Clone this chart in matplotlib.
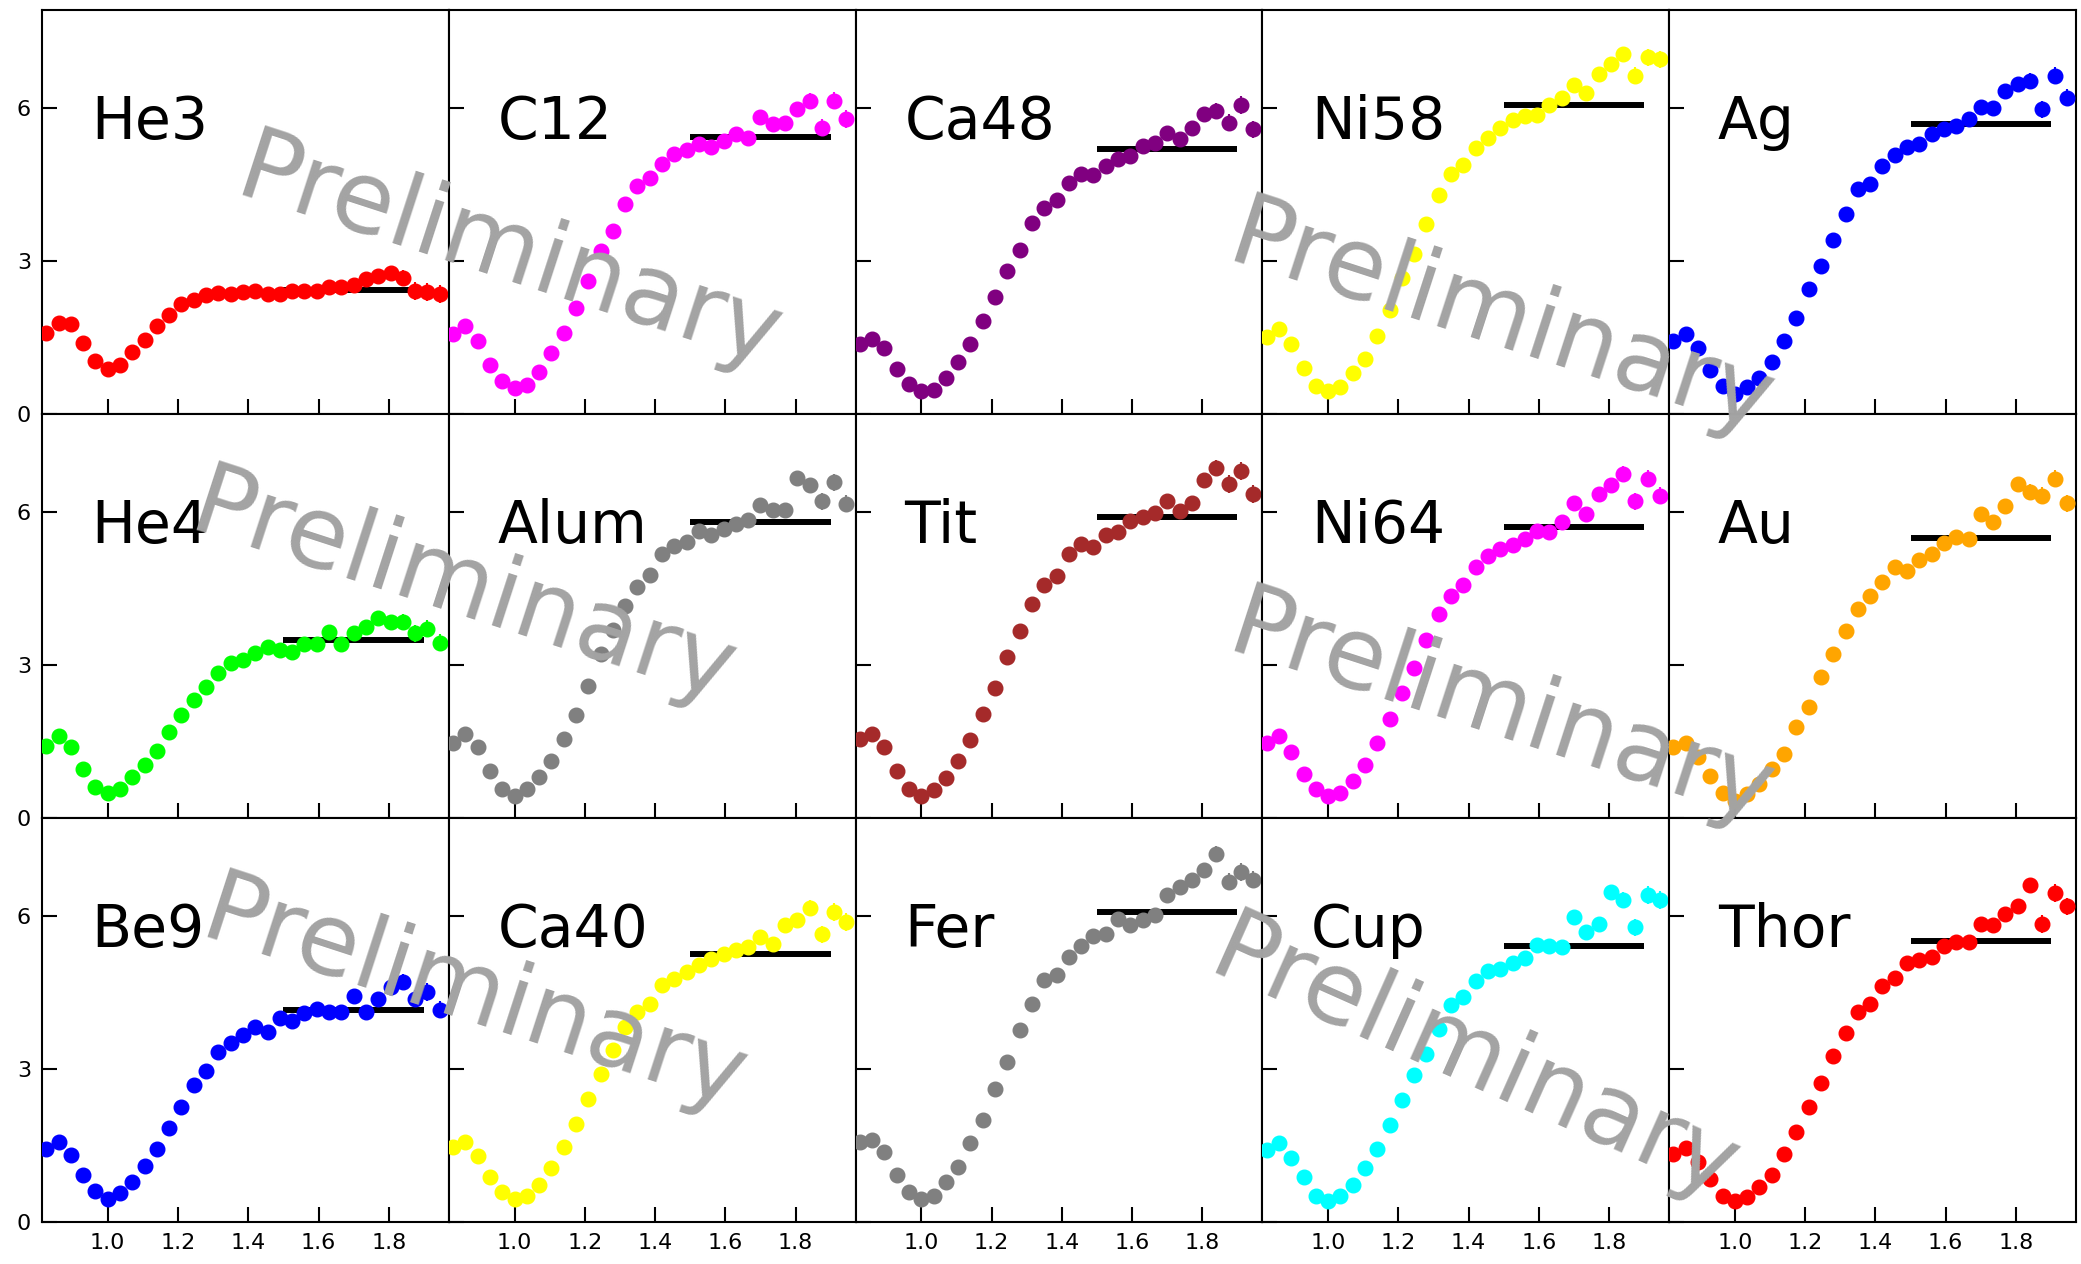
import matplotlib
matplotlib.use("Agg")
import matplotlib.pyplot as plt

# invariant mass bins (GeV), shared by every target
W = [0.825, 0.86, 0.895, 0.93, 0.965, 1.0, 1.035, 1.07, 1.105, 1.14, 1.175,
     1.21, 1.245, 1.28, 1.315, 1.35, 1.385, 1.42, 1.455, 1.49, 1.525, 1.56,
     1.595, 1.63, 1.665, 1.70, 1.735, 1.77, 1.805, 1.84, 1.875, 1.91, 1.945]
ERR = [0.04] * 26 + [0.08, 0.10, 0.12, 0.15, 0.17, 0.17, 0.17]

He3 = [1.59, 1.78, 1.76, 1.39, 1.03, 0.88, 0.96, 1.22, 1.46, 1.73, 1.95, 2.16, 2.23, 2.33, 2.38, 2.36, 2.39,
       2.42, 2.35, 2.36, 2.42, 2.42, 2.41, 2.48, 2.49, 2.53, 2.64, 2.71, 2.77, 2.67, 2.41, 2.39, 2.35]
C12 = [1.56, 1.73, 1.43, 0.96, 0.65, 0.50, 0.57, 0.83, 1.19, 1.59, 2.08, 2.61, 3.20, 3.58, 4.11, 4.47, 4.63,
       4.91, 5.09, 5.17, 5.30, 5.24, 5.35, 5.48, 5.41, 5.82, 5.68, 5.71, 5.97, 6.14, 5.61, 6.14, 5.78]
Ca48 = [1.37, 1.48, 1.29, 0.88, 0.58, 0.45, 0.48, 0.71, 1.01, 1.38, 1.82, 2.29, 2.80, 3.21, 3.74, 4.03, 4.19,
        4.52, 4.71, 4.68, 4.86, 4.99, 5.05, 5.25, 5.32, 5.50, 5.39, 5.61, 5.88, 5.94, 5.71, 6.06, 5.58]
Ni58 = [1.51, 1.66, 1.37, 0.90, 0.55, 0.45, 0.52, 0.81, 1.07, 1.53, 2.03, 2.67, 3.14, 3.73, 4.29, 4.70, 4.88,
        5.22, 5.42, 5.61, 5.76, 5.84, 5.86, 6.06, 6.19, 6.45, 6.30, 6.67, 6.87, 7.05, 6.63, 6.99, 6.95]
Ag = [1.43, 1.56, 1.29, 0.86, 0.55, 0.39, 0.52, 0.71, 1.01, 1.43, 1.89, 2.46, 2.90, 3.42, 3.93, 4.41, 4.50,
      4.86, 5.08, 5.24, 5.29, 5.48, 5.58, 5.65, 5.78, 6.01, 6.00, 6.33, 6.46, 6.53, 5.97, 6.63, 6.20]
He4 = [1.42, 1.61, 1.40, 0.96, 0.61, 0.50, 0.57, 0.80, 1.03, 1.32, 1.68, 2.01, 2.31, 2.56, 2.84, 3.03, 3.10,
       3.23, 3.35, 3.29, 3.25, 3.42, 3.41, 3.64, 3.42, 3.62, 3.74, 3.93, 3.84, 3.84, 3.62, 3.71, 3.44]
Alum = [1.48, 1.65, 1.39, 0.92, 0.57, 0.44, 0.57, 0.80, 1.12, 1.55, 2.01, 2.59, 3.22, 3.69, 4.16, 4.52, 4.77,
        5.18, 5.34, 5.41, 5.62, 5.54, 5.67, 5.76, 5.84, 6.14, 6.04, 6.04, 6.67, 6.52, 6.21, 6.58, 6.16]
Tit = [1.55, 1.65, 1.39, 0.92, 0.57, 0.44, 0.55, 0.78, 1.12, 1.52, 2.04, 2.55, 3.16, 3.67, 4.20, 4.56, 4.75,
       5.18, 5.37, 5.32, 5.54, 5.60, 5.83, 5.91, 5.97, 6.22, 6.01, 6.17, 6.63, 6.86, 6.55, 6.80, 6.35]
Ni64 = [1.48, 1.61, 1.29, 0.86, 0.57, 0.44, 0.50, 0.73, 1.03, 1.48, 1.94, 2.46, 2.95, 3.48, 4.00, 4.36, 4.56,
        4.93, 5.14, 5.27, 5.36, 5.47, 5.62, 5.60, 5.80, 6.17, 5.96, 6.35, 6.52, 6.75, 6.21, 6.65, 6.32]
Au = [1.39, 1.48, 1.19, 0.83, 0.50, 0.34, 0.47, 0.67, 0.96, 1.25, 1.78, 2.18, 2.76, 3.22, 3.67, 4.10, 4.36,
      4.62, 4.93, 4.85, 5.05, 5.18, 5.39, 5.50, 5.47, 5.96, 5.80, 6.12, 6.54, 6.39, 6.32, 6.65, 6.17]
Be9 = [1.44, 1.57, 1.31, 0.92, 0.61, 0.46, 0.56, 0.78, 1.09, 1.44, 1.85, 2.25, 2.68, 2.97, 3.33, 3.51, 3.66,
       3.82, 3.73, 3.99, 3.95, 4.10, 4.18, 4.12, 4.12, 4.44, 4.12, 4.38, 4.61, 4.71, 4.38, 4.51, 4.16]
Ca40 = [1.47, 1.57, 1.29, 0.88, 0.59, 0.46, 0.52, 0.72, 1.05, 1.47, 1.93, 2.42, 2.91, 3.37, 3.82, 4.12, 4.28,
        4.64, 4.77, 4.90, 5.03, 5.16, 5.26, 5.33, 5.39, 5.59, 5.46, 5.82, 5.92, 6.16, 5.64, 6.08, 5.88]
Fer = [1.57, 1.61, 1.37, 0.93, 0.59, 0.46, 0.52, 0.78, 1.08, 1.55, 2.01, 2.61, 3.14, 3.77, 4.27, 4.74, 4.84,
       5.20, 5.42, 5.60, 5.65, 5.95, 5.82, 5.92, 6.01, 6.41, 6.57, 6.70, 6.91, 7.22, 6.67, 6.86, 6.71]
Cup = [1.41, 1.54, 1.26, 0.88, 0.52, 0.42, 0.52, 0.72, 1.05, 1.44, 1.90, 2.39, 2.88, 3.30, 3.79, 4.25, 4.41,
       4.73, 4.92, 4.97, 5.07, 5.18, 5.44, 5.42, 5.39, 5.98, 5.69, 5.85, 6.47, 6.31, 5.78, 6.41, 6.31]
Thor = [1.34, 1.46, 1.18, 0.85, 0.52, 0.42, 0.49, 0.69, 0.92, 1.34, 1.76, 2.25, 2.73, 3.25, 3.71, 4.12, 4.27,
        4.62, 4.79, 5.07, 5.13, 5.20, 5.41, 5.49, 5.49, 5.84, 5.82, 6.03, 6.19, 6.60, 5.84, 6.45, 6.19]

names = ["He3", "C12", "Ca48", "Ni58", "Ag",
         "He4", "Alum", "Tit", "Ni64", "Au",
         "Be9", "Ca40", "Fer", "Cup", "Thor"]
series = [He3, C12, Ca48, Ni58, Ag,
          He4, Alum, Tit, Ni64, Au,
          Be9, Ca40, Fer, Cup, Thor]
colors = ["red", "magenta", "purple", "yellow", "blue",
          "lime", "gray", "brown", "magenta", "orange",
          "blue", "yellow", "gray", "cyan", "red"]
# plateau level averaged over 1.5 < W < 1.9
plateau = [2.44, 5.43, 5.19, 6.06, 5.69,
           3.49, 5.80, 5.91, 5.70, 5.49,
           4.16, 5.26, 6.07, 5.41, 5.51]

fig, axes = plt.subplots(3, 5, sharex=True, sharey=True, figsize=(20.81, 12.64), dpi=100)
fig.subplots_adjust(left=0.0202, right=0.9976, bottom=0.0332, top=0.9921, wspace=0, hspace=0)

for ax, name, vals, c, lev in zip(axes.flat, names, series, colors, plateau):
    ax.hlines(lev, 1.5, 1.9, colors="k", lw=4.3, zorder=2)
    ax.errorbar(W, vals, yerr=ERR, fmt="o", color=c, ms=10.5, elinewidth=1.5,
                capsize=0, zorder=3)
    ax.text(0.12, 0.68, name, transform=ax.transAxes, fontsize=42, va="baseline")
    ax.set_xlim(0.813, 1.971)
    ax.set_ylim(0, 7.92)
    ax.set_xticks([1.0, 1.2, 1.4, 1.6, 1.8])
    ax.set_yticks([0, 3, 6])
    ax.tick_params(direction="in", length=10.5, width=1.5, labelsize=16, pad=8)
    for s in ax.spines.values():
        s.set_linewidth(1.5)
    ax.label_outer()

# watermark, one per half row
marks = [(232, 194, -18), (1224, 260, -18),
         (186, 529, -18), (1224, 650, -18),
         (197, 936, -18), (1205, 972, -24)]
for px, py, rot in marks:
    fig.text(px / 2081, 1 - py / 1264, "Preliminary", fontsize=72, color="#a3a3a3",
             rotation=rot, rotation_mode="anchor", ha="left", va="baseline", zorder=10)

fig.savefig("out.png", dpi=100)
